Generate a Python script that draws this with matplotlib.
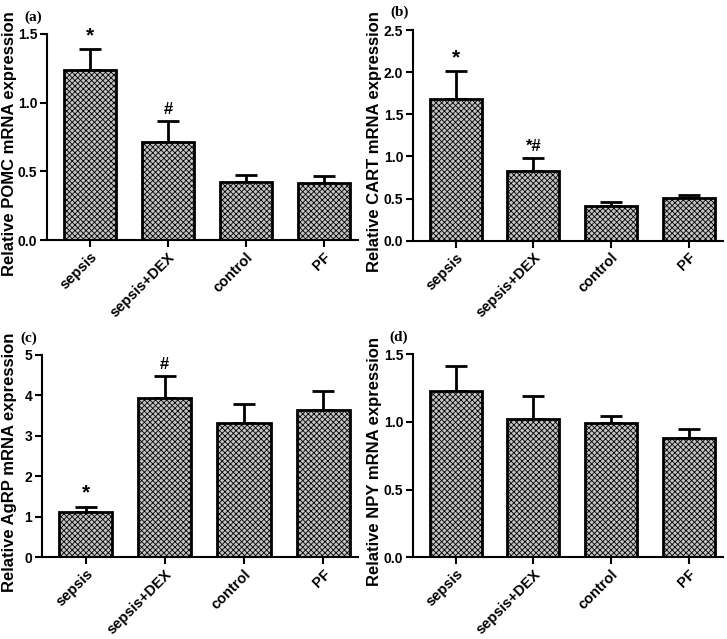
import numpy as np
import matplotlib
matplotlib.use("Agg")
import matplotlib.pyplot as plt

plt.rcParams['font.family'] = ['Liberation Sans', 'DejaVu Sans']
plt.rcParams['hatch.color'] = '#5a5a5a'
plt.rcParams['hatch.linewidth'] = 0.6

groups = ["sepsis", "sepsis+DEX", "control", "PF"]

pomc_mean = [1.24, 0.71, 0.425, 0.415]
pomc_err = [0.15, 0.155, 0.048, 0.053]
pomc_marks = ["*", "#", "", ""]

cart_mean = [1.68, 0.83, 0.415, 0.505]
cart_err = [0.33, 0.15, 0.045, 0.04]
cart_marks = ["*", "*#", "", ""]

agrp_mean = [1.13, 3.93, 3.33, 3.65]
agrp_err = [0.12, 0.55, 0.47, 0.47]
agrp_marks = ["*", "#", "", ""]

npy_mean = [1.23, 1.02, 0.99, 0.88]
npy_err = [0.18, 0.17, 0.05, 0.065]
npy_marks = ["", "", "", ""]

W, H = 727, 639

# panel: (rect, mean, err, marks, ylabel, ymax, yticks, ticklabels, letter, label right edge px)
panels = [
    ([0.0647, 0.6244, 0.4278, 0.3224], pomc_mean, pomc_err, pomc_marks,
     "Relative POMC mRNA expression", 1.5, [0, 0.5, 1.0, 1.5], ["0.0", "0.5", "1.0", "1.5"], "(a)", 17),
    ([0.568, 0.6233, 0.4264, 0.3297], cart_mean, cart_err, cart_marks,
     "Relative CART mRNA expression", 2.5, [0, 0.5, 1.0, 1.5, 2.0, 2.5],
     ["0.0", "0.5", "1.0", "1.5", "2.0", "2.5"], "(b)", 382),
    ([0.0578, 0.1279, 0.4347, 0.3166], agrp_mean, agrp_err, agrp_marks,
     "Relative AgRP mRNA expression", 5, [0, 1, 2, 3, 4, 5], ["0", "1", "2", "3", "4", "5"], "(c)", 17),
    ([0.568, 0.1279, 0.4264, 0.318], npy_mean, npy_err, npy_marks,
     "Relative NPY mRNA expression", 1.5, [0, 0.5, 1.0, 1.5], ["0.0", "0.5", "1.0", "1.5"], "(d)", 382),
]

fig = plt.figure(figsize=(W / 100, H / 100), dpi=100)

for rect, mean, err, marks, ylabel, ymax, yticks, ytl, letter, lab_px in panels:
    ax = fig.add_axes(rect)
    x = np.arange(len(groups))
    ax.bar(x, mean, width=0.67, color='#c4c4c4', edgecolor='black', linewidth=2,
           hatch='xxxxxx', zorder=2)
    ax.errorbar(x, mean, yerr=[np.zeros(len(mean)), err], fmt='none', ecolor='black',
                elinewidth=2, capsize=8, capthick=2, zorder=1)
    for xi, m, e, s in zip(x, mean, err, marks):
        if s:
            ax.text(xi, m + e + ymax * 0.02, s, ha='center', va='bottom',
                    fontsize=15 if s == "*" else 12, fontweight='bold', clip_on=False)
    ax.set_xlim(-0.55, 3.44)
    ax.set_ylim(0, ymax)
    ax.set_yticks(yticks)
    ax.set_yticklabels(ytl, fontsize=10, fontweight='bold')
    ax.set_xticks(x)
    ax.set_xticklabels(groups, rotation=45, ha='right', rotation_mode='anchor',
                       fontsize=10.5, fontweight='bold')
    ax.set_ylabel(ylabel, fontsize=12, fontweight='bold')
    left_px = rect[0] * W
    ax.yaxis.set_label_coords((lab_px - left_px) / (rect[2] * W), 0.47)
    for side in ['top', 'right']:
        ax.spines[side].set_visible(False)
    ax.spines['left'].set_linewidth(1.5)
    ax.spines['bottom'].set_linewidth(1.5)
    ax.tick_params(axis='both', width=1.5, length=5, pad=2)
    ax.text(-0.015, 1.05, letter, transform=ax.transAxes, ha='right', va='bottom',
            fontsize=11, family='Liberation Serif', fontweight='bold')

fig.savefig("out.png", dpi=100)
